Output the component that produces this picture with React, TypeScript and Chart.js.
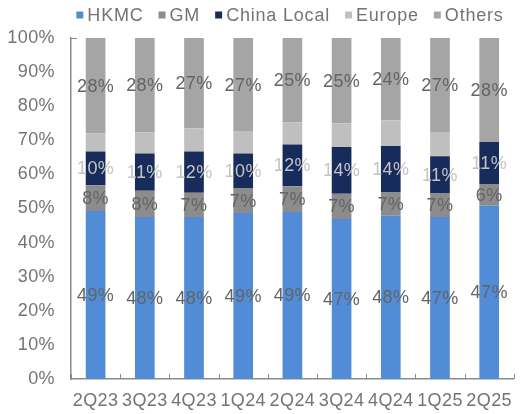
import React, { useEffect, useRef } from "react";
import { Chart, registerables } from "chart.js";

Chart.register(...registerables);

const categories = ["2Q23", "3Q23", "4Q23", "1Q24", "2Q24", "3Q24", "4Q24", "1Q25", "2Q25"];
const seriesNames = ["HKMC", "GM", "China Local", "Europe", "Others"];
const hkmc = [49.3, 47.5, 47.5, 48.7, 49.0, 46.9, 47.9, 47.5, 50.8];
const gm = [7.5, 7.7, 7.1, 7.2, 7.5, 7.4, 6.8, 6.9, 6.4];
const chinaLocal = [9.9, 10.9, 12.1, 10.2, 12.3, 13.7, 13.6, 10.9, 12.3];
const europe = [5.3, 6.2, 6.8, 6.6, 6.5, 7.0, 7.6, 7.1, 0];
const others = [28.0, 27.7, 26.5, 27.3, 24.7, 25.0, 24.1, 27.6, 30.5];

const hkmcLabels = [49, 48, 48, 49, 49, 47, 48, 47, 47];
const gmLabels = [8, 8, 7, 7, 7, 7, 7, 7, 6];
const chinaLocalLabels = [10, 11, 12, 10, 12, 14, 14, 11, 11];
const europeLabels: (number | null)[] = [null, null, null, null, null, null, null, null, null];
const othersLabels = [28, 28, 27, 27, 25, 25, 24, 27, 28];

const yTicks = [0, 10, 20, 30, 40, 50, 60, 70, 80, 90, 100];

const colors = ["#538cd6", "#8c8c8c", "#172c5b", "#bfbfbf", "#a5a5a5"];
const labelColors = ["#646464", "#646464", "#c4c4c4", "#646464", "#646464"];
const FONT = "'Liberation Sans', Arial, sans-serif";
const TEXT = "#747474";
const AXIS = "#8a8a8a";
const SPACING = "0.4px";

export default function App() {
  const ref = useRef<HTMLCanvasElement>(null);
  useEffect(() => {
    if (!ref.current) return;
    const values = [hkmc, gm, chinaLocal, europe, others];
    const labels = [hkmcLabels, gmLabels, chinaLocalLabels, europeLabels, othersLabels];

    const overlay = {
      id: "overlay",
      beforeInit(chart: any) {
        chart.ctx.letterSpacing = SPACING;
      },
      beforeLayout(chart: any) {
        chart.ctx.letterSpacing = SPACING;
      },
      beforeDraw(chart: any) {
        chart.ctx.letterSpacing = SPACING;
      },
      afterDatasetsDraw(chart: any) {
        const ctx = chart.ctx;
        ctx.save();
        ctx.letterSpacing = SPACING;
        ctx.font = `18px ${FONT}`;
        ctx.textAlign = "center";
        ctx.textBaseline = "middle";
        chart.data.datasets.forEach((ds: any, di: number) => {
          const meta = chart.getDatasetMeta(di);
          meta.data.forEach((bar: any, i: number) => {
            const v = labels[di][i];
            if (v === null || v === undefined) return;
            const { x, y, base } = bar.getProps(["x", "y", "base"], true);
            ctx.fillStyle = labelColors[di];
            ctx.fillText(`${v}%`, x, (y + base) / 2 + 1);
          });
        });
        ctx.restore();
      },
      afterDraw(chart: any) {
        const ctx = chart.ctx;
        const area = chart.chartArea;
        ctx.save();
        ctx.strokeStyle = AXIS;
        ctx.lineWidth = 1;
        const n = categories.length;
        const w = (area.right - area.left) / n;
        for (let k = 0; k <= n; k++) {
          const x = Math.round(area.left + k * w) + 0.5;
          ctx.beginPath();
          ctx.moveTo(x, area.bottom - 5);
          ctx.lineTo(x, area.bottom);
          ctx.stroke();
        }
        ctx.beginPath();
        ctx.moveTo(area.left, area.top + 0.5);
        ctx.lineTo(area.left + 6, area.top + 0.5);
        ctx.stroke();

        ctx.letterSpacing = "0.8px";
        ctx.font = `18px ${FONT}`;
        ctx.textBaseline = "middle";
        ctx.textAlign = "left";
        const box = 7;
        const gapText = 4;
        const gapItem = 15;
        const widths = seriesNames.map((s) => box + gapText + ctx.measureText(s).width);
        const total = widths.reduce((a, b) => a + b, 0) + gapItem * (seriesNames.length - 1);
        let x = 290 - total / 2;
        const yc = 15;
        seriesNames.forEach((s, i) => {
          ctx.fillStyle = colors[i];
          ctx.fillRect(x, yc - box / 2, box, box);
          ctx.fillStyle = TEXT;
          ctx.fillText(s, x + box + gapText, yc + 1);
          x += widths[i] + gapItem;
        });
        ctx.restore();
      },
    };

    const chart = new Chart(ref.current, {
      type: "bar",
      data: {
        labels: categories,
        datasets: seriesNames.map((name, i) => ({
          label: name,
          data: values[i],
          backgroundColor: colors[i],
          borderWidth: 0,
          barPercentage: 0.4,
          categoryPercentage: 1,
        })),
      },
      options: {
        animation: false,
        responsive: false,
        devicePixelRatio: 1,
        layout: { padding: { top: 38, left: 0, right: 0, bottom: 0 } },
        plugins: { legend: { display: false }, tooltip: { enabled: false } },
        scales: {
          x: {
            stacked: true,
            grid: { display: false, drawTicks: false },
            border: { display: true, color: AXIS, width: 1.5 },
            ticks: { color: TEXT, font: { family: FONT, size: 18 }, padding: 11, maxRotation: 0, autoSkip: false },
            afterFit: (s: any) => {
              s.height = 35;
            },
          },
          y: {
            stacked: true,
            min: 0,
            max: 100,
            grid: { display: false, drawTicks: false },
            border: { display: true, color: AXIS, width: 1.5 },
            afterBuildTicks: (s: any) => {
              s.ticks = yTicks.map((v) => ({ value: v }));
            },
            ticks: {
              color: TEXT,
              font: { family: FONT, size: 18 },
              padding: 16,
              callback: (v: any) => `${v}%`,
            },
            afterFit: (s: any) => {
              s.width = 71;
            },
          },
        },
      },
      plugins: [overlay],
    } as any);
    return () => chart.destroy();
  }, []);

  return (
    <div style={{ position: "absolute", left: 0, top: 0, width: 523, height: 414, background: "#fff" }}>
      <canvas ref={ref} width={523} height={414} style={{ width: 523, height: 414, display: "block" }} />
    </div>
  );
}
